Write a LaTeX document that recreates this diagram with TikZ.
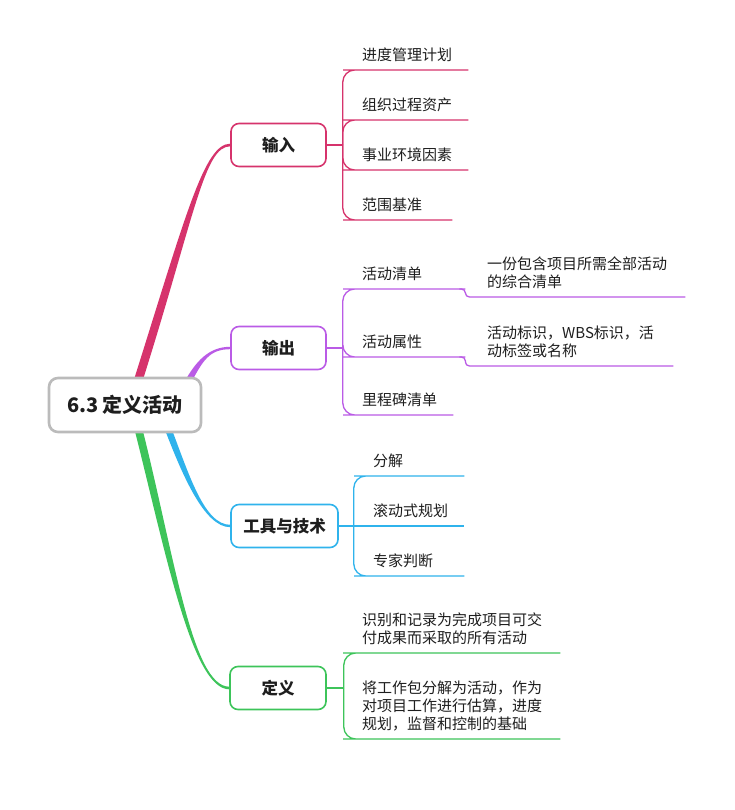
\documentclass[tikz,border=0pt]{standalone}
\usepackage{fontspec}
\setmainfont{Noto Sans CJK SC}
\usetikzlibrary{positioning,backgrounds}
\definecolor{cIn}{HTML}{D6336C}
\definecolor{cOut}{HTML}{BA5BE6}
\definecolor{cTool}{HTML}{2FB3EC}
\definecolor{cDef}{HTML}{3DC45A}
\definecolor{cRoot}{HTML}{BBBBBB}
\definecolor{cTxt}{HTML}{1E1E1E}
\tikzset{
  rootbox/.style={draw=cRoot,line width=2.6pt,rounded corners=9pt,fill=white,minimum width=152pt,minimum height=54pt,font=\fontsize{20}{24}\selectfont\bfseries,text=cTxt},
  topic/.style={draw=#1,line width=1.6pt,rounded corners=8pt,fill=white,minimum height=43pt,font=\fontsize{16.5}{20}\selectfont\bfseries,text=cTxt},
  leaf/.style={anchor=south west,inner xsep=7pt,inner ysep=8pt,text width=#1,align=left,font=\fontsize{15}{18}\selectfont,text=cTxt},
  twig/.style={line width=1.3pt,rounded corners=12pt},
  kink/.style={line width=1.3pt,rounded corners=4pt},
}
\begin{document}
\begin{tikzpicture}[x=1pt,y=-1pt]
  \useasboundingbox (0,0) rectangle (735,810);
  % main topics
  \node[rootbox] (root) at (125,405) {6.3 定义活动};
  \node[topic=cIn,minimum width=95pt] (in) at (278.5,145) {输入};
  \node[topic=cOut,minimum width=95pt] (out) at (278.5,348) {输出};
  \node[topic=cTool,minimum width=107pt] (tool) at (284.5,526) {工具与技术};
  \node[topic=cDef,minimum width=96pt] (def) at (278,688) {定义};
  \coordinate[right=16pt of in] (inJ);
  \coordinate[right=16pt of out] (outJ);
  \coordinate[right=15pt of tool] (toolJ);
  \coordinate[right=17pt of def] (defJ);
  % tapered branches
  \begin{scope}[on background layer]
    \fill[white] (0,0) rectangle (735,810);
    \fill[cIn] ([xshift=8pt,yshift=-6pt]root.north) .. controls +(53,-168) and +(-26,0) .. ([yshift=1.3pt]in.west)
      -- ([yshift=-1.3pt]in.west) .. controls +(-26,0) and +(53,-168) .. ([xshift=17pt,yshift=-6pt]root.north) -- cycle;
    \fill[cOut] ([xshift=59pt,yshift=-6pt]root.north) .. controls +(12,-22) and +(-21,0) .. ([yshift=1.2pt]out.west)
      -- ([yshift=-1.2pt]out.west) .. controls +(-21,0) and +(12,-22) .. ([xshift=66pt,yshift=-6pt]root.north) -- cycle;
    \fill[cTool] ([xshift=39pt,yshift=6pt]root.south) .. controls +(18,47) and +(-26,0) .. ([yshift=-1.2pt]tool.west)
      -- ([yshift=1.2pt]tool.west) .. controls +(-26,0) and +(18,47) .. ([xshift=46pt,yshift=6pt]root.south) -- cycle;
    \fill[cDef] ([xshift=9pt,yshift=6pt]root.south) .. controls +(32,127) and +(-37,0) .. ([yshift=-1.3pt]def.west)
      -- ([yshift=1.3pt]def.west) .. controls +(-37,0) and +(32,127) .. ([xshift=17pt,yshift=6pt]root.south) -- cycle;
  \end{scope}
  % inputs
  \node[leaf=99pt] (in1) at (355,70) {进度管理计划};
  \node[leaf=99pt] (in2) at (355,120) {组织过程资产};
  \node[leaf=99pt] (in3) at (355,170) {事业环境因素};
  \node[leaf=83pt] (in4) at (355,220) {范围基准};
  \draw[twig,cIn] (in.east) -- (inJ);
  \foreach \n in {in1,in2,in3,in4}
    \draw[twig,cIn] (inJ) |- (\n.south west) -- (\n.south east);
  % outputs
  \node[leaf=96pt] (out1) at (355,289) {活动清单};
  \node[leaf=96pt] (out2) at (355,357) {活动属性};
  \node[leaf=84pt] (out3) at (355,415) {里程碑清单};
  \node[leaf=191pt] (sub1) at (480,297) {一份包含项目所需全部活动\\的综合清单};
  \node[leaf=179pt] (sub2) at (480,366) {活动标识，WBS标识，活\\动标签或名称};
  \draw[twig,cOut] (out.east) -- (outJ);
  \foreach \n in {out1,out2,out3}
    \draw[twig,cOut] (outJ) |- (\n.south west) -- (\n.south east);
  \draw[kink,cOut] ([xshift=-6pt]out1.south east) -- (out1.south east) |- (sub1.south west) -- (sub1.south east);
  \draw[kink,cOut] ([xshift=-6pt]out2.south east) -- (out2.south east) |- (sub2.south west) -- (sub2.south east);
  % tools
  \node[leaf=84pt] (tl1) at (366,476) {分解};
  \node[leaf=84pt] (tl2) at (366,526) {滚动式规划};
  \node[leaf=84pt] (tl3) at (366,576) {专家判断};
  \draw[twig,cTool] (tool.east) -- (toolJ) -- (tl2.south east);
  \draw[twig,cTool] (toolJ) |- (tl1.south west) -- (tl1.south east);
  \draw[twig,cTool] (toolJ) |- (tl3.south west) -- (tl3.south east);
  % definition
  \node[leaf=191pt] (def1) at (355,653) {识别和记录为完成项目可交\\付成果而采取的所有活动};
  \node[leaf=191pt] (def2) at (355,739) {将工作包分解为活动，作为\\对项目工作进行估算，进度\\规划，监督和控制的基础};
  \draw[twig,cDef] (def.east) -- (defJ);
  \foreach \n in {def1,def2}
    \draw[twig,cDef] (defJ) |- (\n.south west) -- (\n.south east);
\end{tikzpicture}
\end{document}
